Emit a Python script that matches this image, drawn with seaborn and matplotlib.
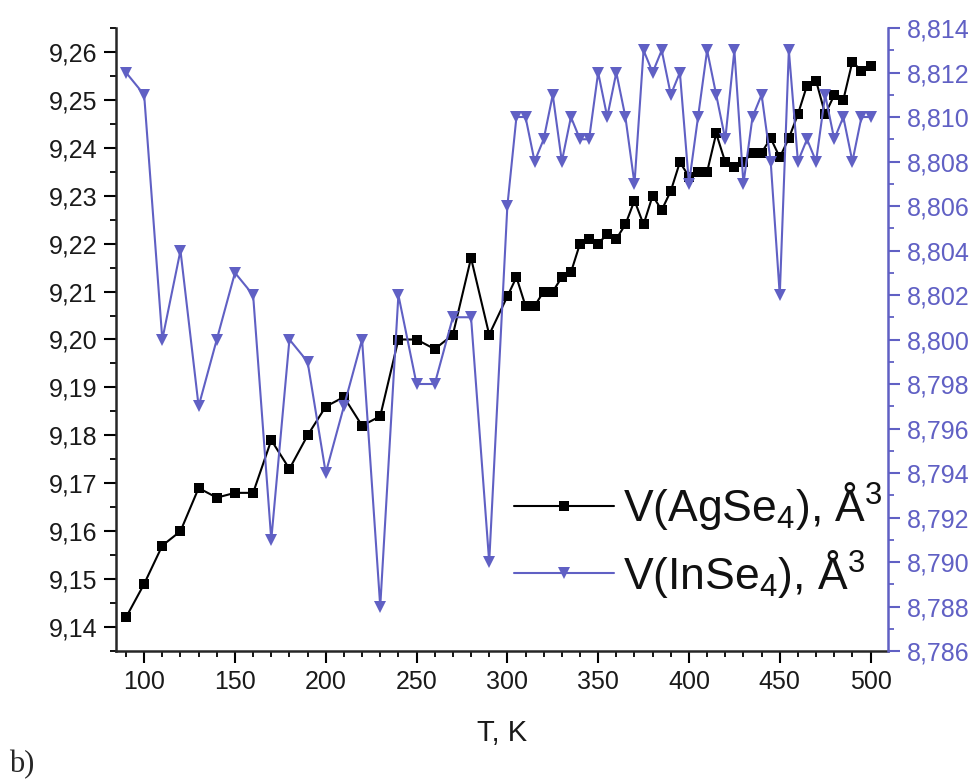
import numpy as np
import pandas as pd
import matplotlib
matplotlib.use("Agg")
import matplotlib.pyplot as plt
from matplotlib.ticker import MultipleLocator, FuncFormatter
import seaborn as sns

# ---- data ----
T = [90, 100, 110, 120, 130, 140, 150, 160, 170, 180, 190, 200, 210, 220, 230,
     240, 250, 260, 270, 280, 290, 300,
     305, 310, 315, 320, 325, 330, 335, 340, 345, 350, 355, 360, 365, 370, 375,
     380, 385, 390, 395, 400, 405, 410, 415, 420, 425, 430, 435, 440, 445, 450,
     455, 460, 465, 470, 475, 480, 485, 490, 495, 500]

V_AgSe4 = [9.142, 9.149, 9.157, 9.160, 9.169, 9.167, 9.168, 9.168, 9.179, 9.173,
           9.180, 9.186, 9.188, 9.182, 9.184, 9.200, 9.200, 9.198, 9.201, 9.217,
           9.201, 9.209,
           9.213, 9.207, 9.207, 9.210, 9.210, 9.213, 9.214, 9.220, 9.221, 9.220,
           9.222, 9.221, 9.224, 9.229, 9.224, 9.230, 9.227, 9.231, 9.237, 9.234,
           9.235, 9.235, 9.243, 9.237, 9.236, 9.237, 9.239, 9.239, 9.242, 9.238,
           9.242, 9.247, 9.253, 9.254, 9.247, 9.251, 9.250, 9.258, 9.256, 9.257]

V_InSe4 = [8.812, 8.811, 8.800, 8.804, 8.797, 8.800, 8.803, 8.802, 8.791, 8.800,
           8.799, 8.794, 8.797, 8.800, 8.788, 8.802, 8.798, 8.798, 8.801, 8.801,
           8.790, 8.806,
           8.810, 8.810, 8.808, 8.809, 8.811, 8.808, 8.810, 8.809, 8.809, 8.812,
           8.810, 8.812, 8.810, 8.807, 8.813, 8.812, 8.813, 8.811, 8.812, 8.807,
           8.810, 8.813, 8.811, 8.809, 8.813, 8.807, 8.810, 8.811, 8.808, 8.802,
           8.813, 8.808, 8.809, 8.808, 8.811, 8.809, 8.810, 8.808, 8.810, 8.810]

label_ag = r"V(AgSe$_4$), Å$^3$"
label_in = r"V(InSe$_4$), Å$^3$"
x_label = "T, K"

df = pd.DataFrame({"T": T, "ag": V_AgSe4, "in": V_InSe4})

# ---- style ----
sns.set_theme(style="ticks")
plt.rcParams["font.family"] = ["Liberation Sans", "DejaVu Sans"]
plt.rcParams["mathtext.fontset"] = "custom"
plt.rcParams["mathtext.rm"] = "Liberation Sans"
plt.rcParams["mathtext.it"] = "Liberation Sans"
plt.rcParams["mathtext.default"] = "regular"

BLUE = "#6060C4"

fig = plt.figure(figsize=(9.77, 7.81), dpi=100)
ax = fig.add_axes([116 / 977, 1 - 651 / 781, (888 - 116) / 977, (651 - 28) / 781])
ax2 = ax.twinx()

sns.lineplot(data=df, x="T", y="ag", ax=ax, color="black", marker="s",
             markersize=7, markeredgewidth=0, linewidth=1.5, label=label_ag,
             legend=False)
sns.lineplot(data=df, x="T", y="in", ax=ax2, color=BLUE, marker="v",
             markersize=8.5, markeredgewidth=0, linewidth=1.5, label=label_in,
             legend=False)

ax.set_xlim(84.5, 509.6)
ax.set_ylim(9.135, 9.265)
ax2.set_ylim(8.786, 8.814)

comma = lambda fmt: FuncFormatter(lambda v, p: (fmt % v).replace(".", ","))

ax.xaxis.set_major_locator(MultipleLocator(50))
ax.xaxis.set_minor_locator(MultipleLocator(10))
ax.yaxis.set_major_locator(MultipleLocator(0.01))
ax.yaxis.set_minor_locator(MultipleLocator(0.005))
ax.yaxis.set_major_formatter(comma("%.2f"))
ax2.yaxis.set_major_locator(MultipleLocator(0.002))
ax2.yaxis.set_minor_locator(MultipleLocator(0.001))
ax2.yaxis.set_major_formatter(comma("%.3f"))

for a in (ax, ax2):
    a.set_xlabel("")
    a.set_ylabel("")
    a.spines["top"].set_visible(False)

ax.spines["right"].set_visible(False)
ax2.spines["left"].set_visible(False)
ax2.spines["bottom"].set_visible(False)
ax2.spines["right"].set_color(BLUE)
ax2.spines["right"].set_linewidth(1.8)
ax.spines["left"].set_linewidth(1.8)
ax.spines["bottom"].set_linewidth(1.8)

ax.tick_params(axis="both", which="major", direction="out", length=8.6, width=1.5,
               labelsize=18, colors="black")
ax.tick_params(axis="x", which="major", pad=5)
ax.tick_params(axis="y", which="major", pad=5)
ax.tick_params(axis="both", which="minor", direction="out", length=4.5, width=1.3,
               colors="black")
ax2.tick_params(axis="y", which="major", direction="out", length=8.6, width=1.5,
                labelsize=18, colors=BLUE, pad=5)
ax2.tick_params(axis="y", which="minor", direction="out", length=4.5, width=1.3,
                colors=BLUE)
for lab in ax.get_xticklabels() + ax.get_yticklabels():
    lab.set_color("#1a1a1a")

ax.set_xlabel(x_label, fontsize=21, labelpad=18, color="#1a1a1a")

h1 = ax.get_lines()[0]
h2 = ax2.get_lines()[0]
leg = fig.legend([h1, h2], [label_ag, label_in], loc="center left",
                 bbox_to_anchor=(514 / 977, 1 - 540 / 781), frameon=False,
                 fontsize=32, handlelength=2.25, handletextpad=0.2,
                 labelspacing=0.35, borderpad=0, borderaxespad=0,
                 numpoints=1)
for t in leg.get_texts():
    t.set_color("#111111")

fig.text(9 / 977, 1 - 765 / 781, "b)", fontsize=22,
         family=["Liberation Serif", "DejaVu Serif"], va="center", ha="left")

fig.savefig("out.png", dpi=100)
